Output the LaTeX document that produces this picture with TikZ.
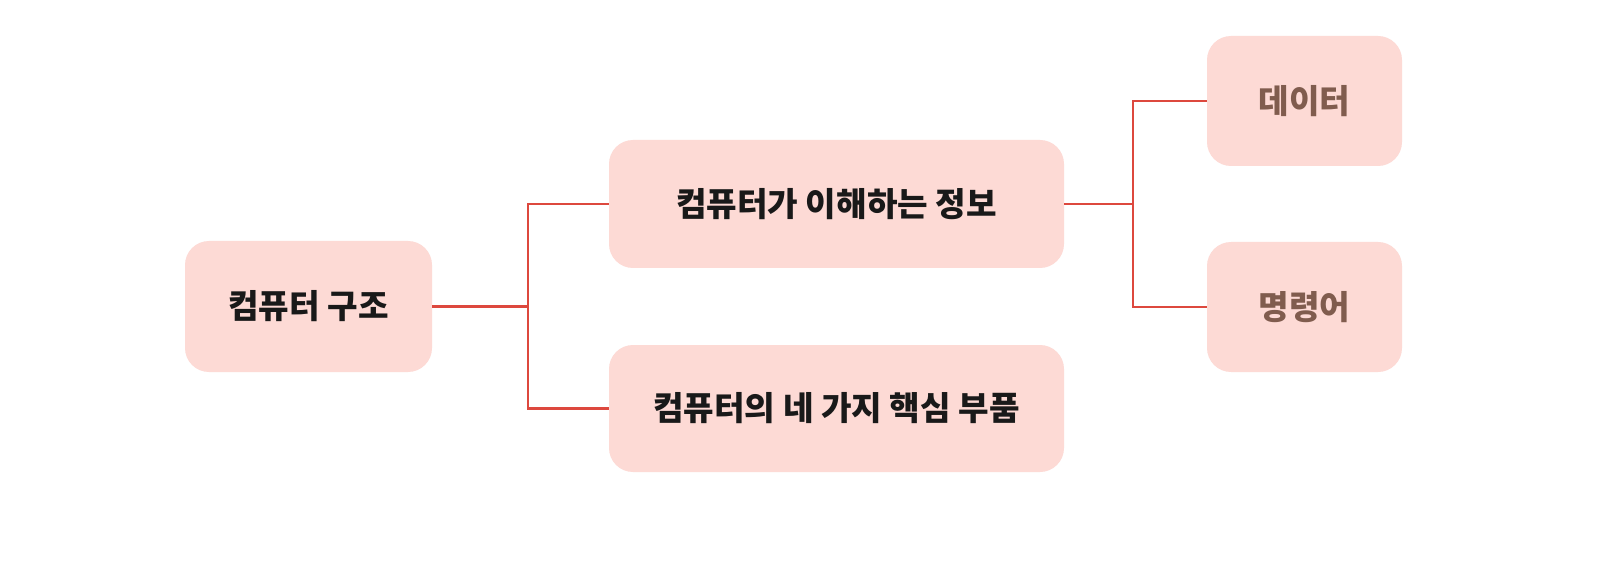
\documentclass[tikz,border=0pt]{standalone}
\usepackage{fontspec}
\usetikzlibrary{positioning}
\newfontfamily\kfont{Noto Sans CJK KR}
\definecolor{boxpink}{RGB}{253,218,213}
\definecolor{linkred}{RGB}{221,72,62}
\definecolor{leafbrown}{RGB}{128,92,78}
\definecolor{textdark}{RGB}{25,25,25}

\tikzset{
  topic/.style={fill=boxpink, rounded corners=12pt, inner sep=0pt,
    font=\kfont\bfseries\fontsize{16.6}{20}\selectfont, text=textdark},
  leaf/.style={topic, text=leafbrown},
  link/.style={linkred, line width=1.2pt},
}

\begin{document}
\begin{tikzpicture}[x=0.5pt, y=-0.5pt]
  \useasboundingbox[fill=white] (0,0) rectangle (1600,577);

  \node[topic, minimum width=123.5pt, minimum height=65.5pt] (root) at (308.5,306.5) {컴퓨터 구조};
  \node[topic, minimum width=227.5pt, minimum height=64pt] (info) at (836.5,204) {컴퓨터가 이해하는 정보};
  \node[topic, minimum width=227.5pt, minimum height=63.5pt] (parts) at (836.5,408.5) {컴퓨터의 네 가지 핵심 부품};
  \node[leaf, minimum width=97.5pt, minimum height=65pt] (data) at (1304.5,101) {데이터};
  \node[leaf, minimum width=97.5pt, minimum height=65pt] (instr) at (1304.5,307) {명령어};

  \coordinate (jroot) at (528,306.5);
  \coordinate (jinfo) at (1133,204);

  \draw[link] (root.east) -- (jroot) |- (info.west);
  \draw[link] (jroot) |- (parts.west);
  \draw[link] (info.east) -- (jinfo) |- (data.west);
  \draw[link] (jinfo) |- (instr.west);
\end{tikzpicture}
\end{document}
